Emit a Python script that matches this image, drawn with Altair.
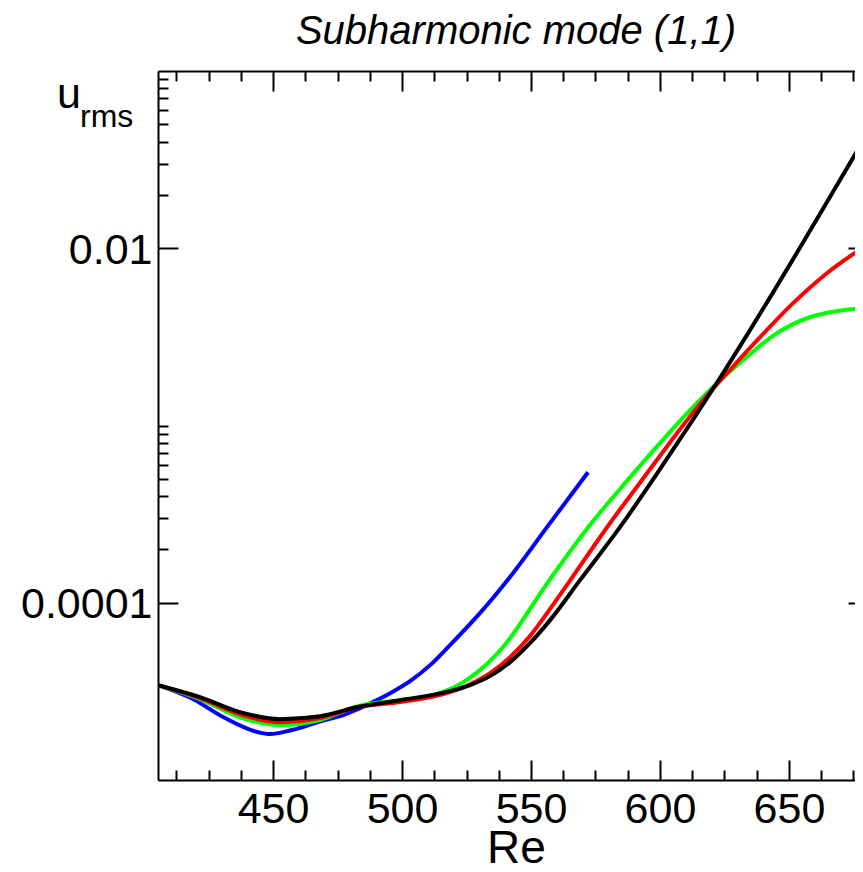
import altair as alt
import pandas as pd

# ---------------- data ----------------
TITLE = ["Subharmonic mode (1,1)"]
Y_MAIN = ["u"]
Y_SUB = ["rms"]
X_TITLE = "Re"

SERIES = ["blue", "green", "red", "black"]
COLORS = ["#0000ff", "#00ff00", "#ff0000", "#000000"]

re_blue = [405.4, 418.2, 431.4, 444.2, 448.8, 457.0, 470.2, 476.0, 482.9, 489.5,
           496.1, 503.1, 510.9, 518.6, 530.2, 543.0, 556.2, 572.1]
u_blue = [3.43e-5, 2.90e-5, 2.235e-5, 1.86e-5, 1.815e-5, 1.91e-5, 2.18e-5, 2.29e-5,
          2.51e-5, 2.786e-5, 3.13e-5, 3.613e-5, 4.447e-5, 5.77e-5, 8.74e-5,
          1.469e-4, 2.669e-4, 5.45e-4]

re_green = [405.4, 421.7, 437.2, 452.7, 468.2, 482.9, 499.2, 510.9, 518.6, 524.4,
            530.2, 536.0, 541.9, 546.5, 551.6, 556.6, 561.2, 574.0, 587.2, 600.0,
            612.8, 622.1, 632.2, 645.3, 658.1, 670.9, 680.6]
u_green = [3.43e-5, 2.86e-5, 2.26e-5, 2.04e-5, 2.18e-5, 2.61e-5, 2.82e-5, 2.97e-5,
           3.256e-5, 3.613e-5, 4.167e-5, 4.998e-5, 6.315e-5, 7.875e-5, 1.021e-4,
           1.307e-4, 1.622e-4, 2.88e-4, 4.87e-4, 7.95e-4, 1.268e-3, 1.733e-3,
           2.335e-3, 3.316e-3, 4.08e-3, 4.47e-3, 4.59e-3]

re_red = [405.4, 421.7, 437.2, 452.7, 468.2, 482.9, 499.2, 518.6, 526.4, 534.1,
          541.9, 549.6, 557.4, 565.1, 580.6, 593.4, 606.6, 616.7, 626.0, 638.8,
          651.6, 664.7, 680.6]
u_red = [3.43e-5, 2.90e-5, 2.35e-5, 2.12e-5, 2.235e-5, 2.58e-5, 2.75e-5, 3.13e-5,
         3.47e-5, 4.007e-5, 4.934e-5, 6.48e-5, 9.23e-5, 1.334e-4, 2.81e-4,
         5.01e-4, 9.05e-4, 1.389e-3, 1.972e-3, 3.148e-3, 4.90e-3, 7.23e-3,
         1.053e-2]

re_black = [405.4, 421.7, 437.2, 452.7, 468.2, 482.9, 499.2, 518.6, 526.4, 534.1,
            541.9, 549.6, 557.4, 569.0, 584.5, 600.0, 612.8, 623.3, 633.7, 643.8,
            654.3, 664.7, 680.6]
u_black = [3.43e-5, 2.935e-5, 2.415e-5, 2.205e-5, 2.29e-5, 2.58e-5, 2.82e-5, 3.17e-5,
           3.43e-5, 3.855e-5, 4.624e-5, 5.916e-5, 7.98e-5, 1.341e-4, 2.669e-4,
           5.67e-4, 1.079e-3, 1.858e-3, 3.236e-3, 5.62e-3, 1.009e-2, 1.816e-2,
           4.50e-2]

X_DOMAIN = [405.4, 675.6]
Y_DOMAIN = [1e-5, 1e-1]
X_MAJOR = [450, 500, 550, 600, 650]
X_MINOR = [412.5, 425, 437.5, 462.5, 475, 487.5, 512.5, 525, 537.5, 562.5, 575,
           587.5, 612.5, 625, 637.5, 662.5, 675]
Y_MAJOR = [1e-4, 1e-2]
Y_MINOR = [2e-4, 3e-4, 4e-4, 5e-4, 6e-4, 7e-4, 8e-4, 9e-4, 1e-3,
           2e-2, 3e-2, 4e-2, 5e-2, 6e-2, 7e-2, 8e-2, 9e-2]

FONT = "Liberation Sans"

# ---------------- build ----------------
frames = []
for name, res, us in [("blue", re_blue, u_blue), ("green", re_green, u_green),
                      ("red", re_red, u_red), ("black", re_black, u_black)]:
    frames.append(pd.DataFrame({"Re": res, "u": us, "series": name}))
df = pd.concat(frames, ignore_index=True)

xs = alt.Scale(domain=X_DOMAIN, nice=False, zero=False)
ys = alt.Scale(type="log", domain=Y_DOMAIN, nice=False)


def enc(chart, xaxis, yaxis):
    return chart.encode(
        x=alt.X("Re:Q", scale=xs, axis=xaxis),
        y=alt.Y("u:Q", scale=ys, axis=yaxis),
    )


def tick_axis(orient, values, size, offset=None):
    return alt.Axis(orient=orient, values=values, tickSize=size,
                    offset=-size if offset is None else offset,
                    domain=False, labels=False, grid=False, title=None,
                    ticks=True, tickColor="black", tickWidth=2)


layers = []
for name, color in zip(SERIES, COLORS):
    d = df[df.series == name]
    layers.append(enc(alt.Chart(d).mark_line(color=color, strokeWidth=4,
                                             interpolate="monotone", clip=True),
                      None, None))

ghost = alt.Chart(df[df.series == "black"]).mark_line(strokeOpacity=0)

label_x = alt.Axis(orient="bottom", values=X_MAJOR, ticks=False, tickSize=0,
                   domain=True, domainColor="black", domainWidth=2,
                   grid=False, labelFont=FONT, labelFontSize=43,
                   labelColor="black", labelPadding=8, format="d",
                   labelFlush=False, labelOverlap=False,
                   title=X_TITLE, titleFont=FONT, titleFontSize=46,
                   titleFontWeight="normal", titleColor="black",
                   titleX=358, titleY=82, titleBaseline="alphabetic",
                   titleAlign="center")
label_y = alt.Axis(orient="left", values=Y_MAJOR, ticks=False, tickSize=0,
                   domain=True, domainColor="black", domainWidth=2,
                   grid=False, labelFont=FONT, labelFontSize=43,
                   labelColor="black", labelPadding=6, labelOffset=2,
                   labelFlush=False, labelOverlap=False,
                   labelExpr="datum.value < 0.001 ? '0.0001' : '0.01'",
                   title=None)
top_frame = alt.Axis(orient="top", values=X_MAJOR, ticks=False, labels=False,
                     domain=True, domainColor="black", domainWidth=2,
                     grid=False, title=None)

layers.append(enc(ghost, label_x, label_y))
layers.append(enc(ghost, top_frame, None))
layers.append(enc(ghost, tick_axis("bottom", X_MAJOR, 20), tick_axis("left", Y_MAJOR, 20)))
layers.append(enc(ghost, tick_axis("bottom", X_MINOR, 10), tick_axis("left", Y_MINOR, 10)))
layers.append(enc(ghost, tick_axis("top", X_MAJOR, 20), tick_axis("right", Y_MAJOR, 20, -7)))
layers.append(enc(ghost, tick_axis("top", X_MINOR, 10), None))

title_layer = alt.Chart(pd.DataFrame({"t": TITLE})).mark_text(
    font=FONT, fontSize=40, fontStyle="italic", align="center",
    baseline="alphabetic", color="black"
).encode(text="t:N", x=alt.value(358), y=alt.value(-27))

u_layer = alt.Chart(pd.DataFrame({"t": Y_MAIN})).mark_text(
    font=FONT, fontSize=43, align="left", baseline="alphabetic", color="black"
).encode(text="t:N", x=alt.value(-101), y=alt.value(37))

rms_layer = alt.Chart(pd.DataFrame({"t": Y_SUB})).mark_text(
    font=FONT, fontSize=32, align="left", baseline="alphabetic", color="black"
).encode(text="t:N", x=alt.value(-78), y=alt.value(56))

layers += [title_layer, u_layer, rms_layer]

chart = alt.layer(*layers).resolve_axis(
    x="independent", y="independent"
).properties(
    width=697, height=709,
    autosize=alt.AutoSizeParams(type="none"),
    padding={"left": 150, "top": 63, "right": 0, "bottom": 84},
).configure_view(
    stroke=None
)

chart.save("out.html", embed_options={"renderer": "svg", "actions": False})
